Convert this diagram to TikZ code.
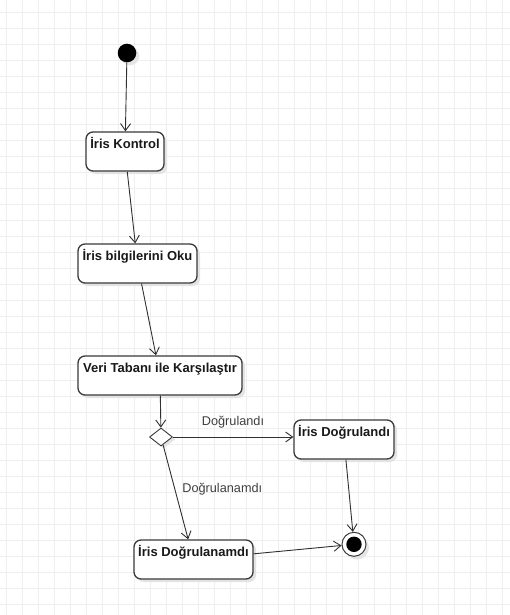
\documentclass[tikz,border=0pt]{standalone}
\usepackage{fontspec}
\setmainfont{Liberation Sans}
\usetikzlibrary{arrows.meta,shapes.geometric,shadows}
\definecolor{gridc}{HTML}{EFEFEF}
\definecolor{linec}{HTML}{303030}
\definecolor{boxc}{HTML}{3A3A3A}
\definecolor{lblc}{HTML}{404040}
\tikzset{
  actbox/.style={draw=boxc, line width=1.3pt, fill=white, rounded corners=7pt, inner sep=0pt,
    drop shadow={shadow xshift=3pt, shadow yshift=-3pt, fill=black!11, opacity=1}},
  boxtext/.style={anchor=base, inner sep=0pt, font=\fontsize{13}{15}\selectfont\bfseries, text=black!90},
  lbl/.style={inner sep=0pt, font=\fontsize{12.7}{15}\selectfont, text=lblc},
  flow/.style={draw=linec, line width=0.9pt, -{Straight Barb[length=7pt,width=10pt,line width=0.9pt]}},
}
\begin{document}
\begin{tikzpicture}[x=1pt,y=-1pt]
\useasboundingbox (0,0) rectangle (510,615);
\fill[white] (0,0) rectangle (510,615);
% grid
\foreach \x in {6.5,22.5,...,510} \draw[gridc, line width=0.8pt] (\x,0) -- (\x,615);
\foreach \y in {12,28,...,615} \draw[gridc, line width=0.8pt] (0,\y) -- (510,\y);

% initial node
\fill[black!10] (130,56) circle (9.3);
\node[circle, fill=black, minimum size=18.6pt, inner sep=0pt] (init) at (127,53) {};

% activities
\node[actbox, minimum width=78pt, minimum height=39pt] (k) at (125,151.5) {};
\node[boxtext] (kt) at ([yshift=-17.5pt]k.north) {İris Kontrol};

\node[actbox, minimum width=119pt, minimum height=39pt] (o) at (137.5,263.5) {};
\node[boxtext] (ot) at ([yshift=-17.5pt]o.north) {İris bilgilerini Oku};

\node[actbox, minimum width=164pt, minimum height=39pt] (v) at (160,375.5) {};
\node[boxtext] (vt) at ([yshift=-17.5pt]v.north) {Veri Tabanı ile Karşılaştır};

\node[diamond, draw=boxc, line width=0.9pt, fill=white, inner sep=0pt, minimum width=23pt, minimum height=18pt,
  drop shadow={shadow xshift=2.5pt, shadow yshift=-2.5pt, fill=black!11, opacity=1}] (d) at (161,437) {};

\node[actbox, minimum width=100pt, minimum height=39pt] (dg) at (344,439.5) {};
\node[boxtext] (dgt) at ([yshift=-17.5pt]dg.north) {İris Doğrulandı};

\node[actbox, minimum width=119pt, minimum height=39pt] (dn) at (193.5,559.5) {};
\node[boxtext] (dnt) at ([yshift=-17.5pt]dn.north) {İris Doğrulanamdı};

% final node
\fill[black!10] (357,547.5) circle (12);
\node[circle, draw=boxc, line width=1pt, fill=white, minimum size=24pt, inner sep=0pt] (fin) at (354,544.3) {};
\node[circle, fill=black, minimum size=15.4pt, inner sep=0pt] (finin) at (fin.center) {};

% flows
\draw[flow] (init) -- (k);
\draw[flow] (k) -- (o);
\draw[flow] (o) -- (v);
\draw[flow] (v) -- (d);
\draw[flow] (d.east) -- (d.east -| dg.west);
\draw[flow] (d) -- (dn);
\draw[flow] (dg) -- (fin);
\draw[flow] (dn) -- (fin);

% guards
\node[lbl] (g1) at (233,422) {Doğrulandı};
\node[lbl] (g2) at (222.3,489.5) {Doğrulanamdı};
\end{tikzpicture}
\end{document}
